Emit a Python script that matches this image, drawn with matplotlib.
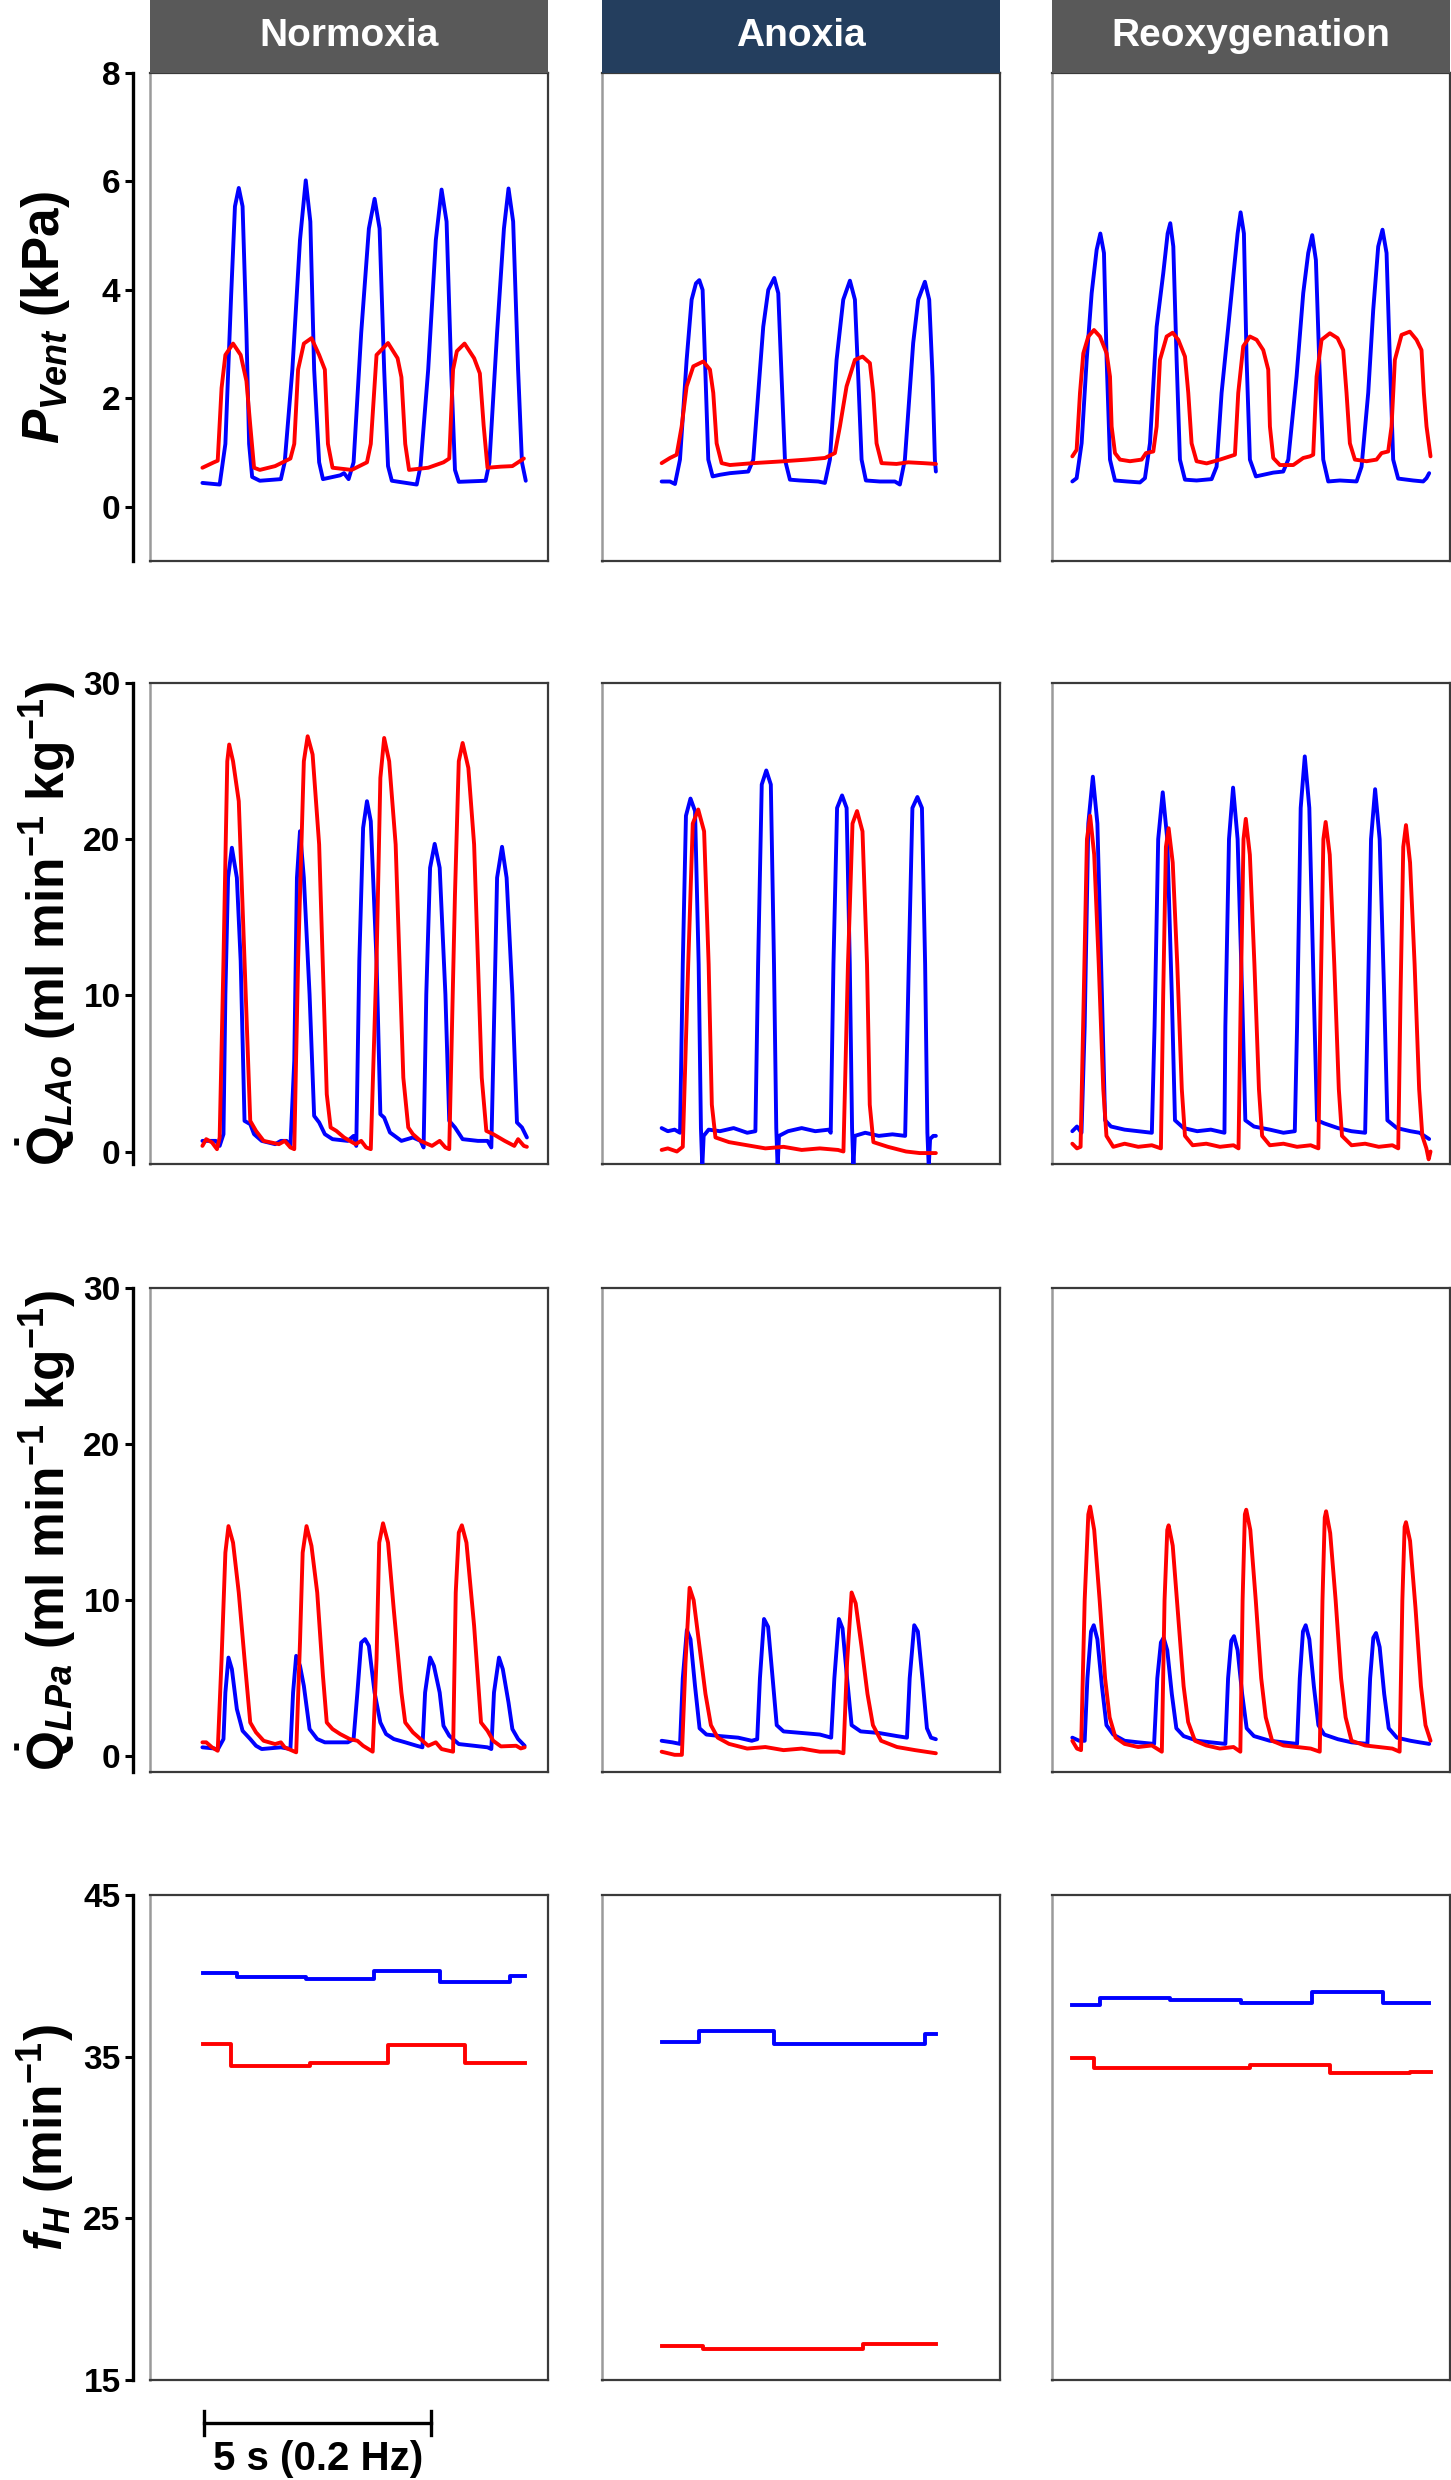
import matplotlib
matplotlib.use('Agg')
import matplotlib.pyplot as plt
import matplotlib.transforms as mtrans
from matplotlib.patches import Rectangle
import numpy as np

plt.rcParams['font.family'] = ['Liberation Sans', 'DejaVu Sans']
plt.rcParams['font.weight'] = 'bold'
plt.rcParams['mathtext.fontset'] = 'custom'
plt.rcParams['mathtext.rm'] = 'Liberation Sans:bold'
plt.rcParams['mathtext.it'] = 'Liberation Sans:italic:bold'
plt.rcParams['mathtext.bf'] = 'Liberation Sans:bold'

# ---------------- data ----------------
conditions = ['Normoxia', 'Anoxia', 'Reoxygenation']
ylabels = [r'$\mathit{P}_{\mathit{Vent}}$ (kPa)',
           r'$\dot{\mathrm{Q}}_{\mathit{LAo}}$ (ml min$^{\mathrm{-1}}$ kg$^{\mathrm{-1}}$)',
           r'$\dot{\mathrm{Q}}_{\mathit{LPa}}$ (ml min$^{\mathrm{-1}}$ kg$^{\mathrm{-1}}$)',
           r'$\mathit{f}_{\mathit{H}}$ (min$^{\mathrm{-1}}$)']
yticks_rows = [[0, 2, 4, 6, 8], [0, 10, 20, 30], [0, 10, 20, 30], [15, 25, 35, 45]]
ylims_rows = [(-1, 8), (-0.8, 30), (-1, 30), (15, 45)]
scale_bar_start = 1.2   # s
scale_bar_len = 5.0     # s
scale_bar_label = '5 s (0.2 Hz)'

# (time in s from panel left edge, value)
norm_pv_blue = [(1.155,0.44),(1.535,0.41),(1.661,1.16),(1.788,3.90),(1.872,5.54),(1.956,5.88),(2.040,5.54),(2.125,3.21),(2.184,1.16),(2.251,0.55),(2.420,0.48),(2.884,0.51),(2.968,0.82),(3.137,2.53),(3.305,4.92),(3.432,6.02),(3.533,5.26),(3.617,2.53),(3.727,0.82),(3.811,0.51),(4.191,0.58),(4.275,0.62),(4.376,0.51),(4.486,0.82),(4.654,3.21),(4.823,5.13),(4.949,5.68),(5.059,5.13),(5.160,2.53),(5.245,0.75),(5.329,0.48),(5.877,0.41),(5.961,0.75),(6.130,2.53),(6.298,4.92),(6.425,5.85),(6.535,5.26),(6.636,2.53),(6.720,0.68),(6.804,0.46),(7.395,0.48),(7.479,0.82),(7.648,3.21),(7.799,5.13),(7.900,5.87),(8.002,5.26),(8.111,2.53),(8.196,0.82),(8.280,0.48)]
norm_pv_red = [(1.155,0.72),(1.408,0.82),(1.492,0.85),(1.577,2.19),(1.661,2.80),(1.830,3.01),(1.998,2.80),(2.125,2.32),(2.209,1.50),(2.293,0.72),(2.420,0.68),(2.757,0.75),(3.094,0.89),(3.179,1.16),(3.263,2.53),(3.390,3.01),(3.558,3.11),(3.727,2.80),(3.853,2.53),(3.921,1.16),(4.022,0.72),(4.444,0.68),(4.781,0.82),(4.865,1.16),(4.992,2.80),(5.245,3.02),(5.455,2.74),(5.540,2.39),(5.624,1.16),(5.708,0.68),(6.130,0.72),(6.467,0.82),(6.594,0.89),(6.678,2.53),(6.762,2.87),(6.931,3.01),(7.142,2.74),(7.268,2.46),(7.352,1.50),(7.437,0.72),(7.732,0.74),(7.985,0.75),(8.238,0.89)]

norm_qlao_blue = [(1.155,0.68),(1.450,0.68),(1.535,0.36),(1.619,1.11),(1.661,10.06),(1.720,17.53),(1.804,19.45),(1.914,17.53),(1.998,12.20),(2.083,1.96),(2.209,1.75),(2.293,1.11),(2.462,0.68),(2.757,0.47),(2.884,0.68),(3.010,0.68),(3.094,0.36),(3.179,5.80),(3.238,17.53),(3.305,20.51),(3.390,17.53),(3.516,10.06),(3.617,2.28),(3.727,1.86),(3.853,1.11),(4.022,0.79),(4.359,0.68),(4.486,1.00),(4.545,0.36),(4.612,12.20),(4.696,20.72),(4.781,22.43),(4.865,21.15),(4.992,12.20),(5.076,2.39),(5.160,2.17),(5.287,1.22),(5.540,0.68),(5.793,0.90),(5.961,0.68),(6.029,0.26),(6.088,10.06),(6.172,18.17),(6.273,19.70),(6.383,18.17),(6.509,10.06),(6.594,1.96),(6.720,1.54),(6.889,0.79),(7.226,0.68),(7.437,0.68),(7.521,0.26),(7.563,5.80),(7.648,17.53),(7.757,19.51),(7.858,17.53),(7.985,10.06),(8.086,1.86),(8.196,1.54),(8.305,0.90)]
norm_qlao_red = [(1.155,0.36),(1.239,0.79),(1.366,0.58),(1.476,0.15),(1.535,0.90),(1.619,12.20),(1.703,24.99),(1.745,26.06),(1.830,24.99),(1.956,22.43),(2.083,12.20),(2.209,1.96),(2.336,1.32),(2.504,0.68),(2.841,0.47),(2.968,0.68),(3.094,0.26),(3.179,0.15),(3.263,12.20),(3.390,24.99),(3.474,26.59),(3.583,25.42),(3.727,19.66),(3.895,3.67),(3.980,1.54),(4.106,1.32),(4.275,0.90),(4.528,0.47),(4.654,0.68),(4.764,0.26),(4.865,0.15),(4.992,12.20),(5.076,23.92),(5.160,26.48),(5.270,24.99),(5.413,19.66),(5.582,4.73),(5.691,1.54),(5.793,1.11),(5.961,0.68),(6.214,0.36),(6.383,0.68),(6.509,0.26),(6.594,0.15),(6.720,16.46),(6.804,24.99),(6.889,26.16),(7.015,24.56),(7.142,19.66),(7.310,4.73),(7.411,1.32),(7.563,1.11),(7.816,0.68),(8.027,0.36),(8.111,0.79),(8.238,0.36),(8.305,0.30)]

norm_qlpa_blue = [(1.155,0.58),(1.408,0.51),(1.492,0.43),(1.619,1.11),(1.661,4.09),(1.729,6.33),(1.804,5.59),(1.914,3.03),(2.040,1.64),(2.209,1.11),(2.336,0.68),(2.462,0.47),(2.884,0.58),(3.094,0.47),(3.153,4.09),(3.221,6.44),(3.305,5.80),(3.390,4.52),(3.516,1.75),(3.685,1.11),(3.853,0.90),(4.359,0.90),(4.486,1.11),(4.570,4.09),(4.654,7.29),(4.739,7.51),(4.823,7.08),(4.949,4.09),(5.076,2.17),(5.202,1.43),(5.371,1.11),(5.624,0.90),(5.877,0.68),(6.003,0.58),(6.062,4.09),(6.172,6.33),(6.256,5.80),(6.383,4.09),(6.467,1.96),(6.594,1.32),(6.804,0.79),(7.142,0.68),(7.437,0.58),(7.521,0.47),(7.580,4.09),(7.690,6.33),(7.774,5.59),(7.900,3.45),(7.985,1.75),(8.111,1.11),(8.255,0.68)]
norm_qlpa_red = [(1.155,0.90),(1.239,0.90),(1.366,0.58),(1.492,0.36),(1.577,6.23),(1.661,13.05),(1.729,14.75),(1.830,13.69),(1.956,10.49),(2.083,6.23),(2.209,2.17),(2.336,1.54),(2.504,1.00),(2.757,0.79),(2.884,0.90),(2.968,0.58),(3.221,0.26),(3.305,7.29),(3.364,13.05),(3.449,14.75),(3.558,13.48),(3.685,10.49),(3.811,5.16),(3.895,2.17),(4.022,1.75),(4.191,1.43),(4.402,1.11),(4.570,1.00),(4.696,0.68),(4.907,0.30),(4.992,6.23),(5.051,13.69),(5.135,14.93),(5.245,13.69),(5.371,9.42),(5.540,4.09),(5.624,2.17),(5.793,1.54),(5.961,1.11),(6.130,0.68),(6.298,0.90),(6.425,0.47),(6.678,0.30),(6.737,10.49),(6.804,14.33),(6.872,14.80),(6.973,13.69),(7.142,8.36),(7.294,2.17),(7.437,1.64),(7.563,1.00),(7.732,0.64),(8.069,0.68),(8.170,0.51),(8.255,0.58)]

norm_fh_blue_t = [1.17, 1.91, 3.44, 4.93, 6.40, 7.93, 8.26]
norm_fh_blue_v = [40.2, 39.9, 39.8, 40.3, 39.6, 40.0, 40.0]
norm_fh_red_t = [1.17, 1.78, 3.52, 5.24, 6.94, 8.26]
norm_fh_red_v = [35.76, 34.44, 34.6, 35.72, 34.6, 34.6]

anox_pv_blue = [(1.314,0.466),(1.498,0.466),(1.608,0.42),(1.718,0.87),(1.865,2.71),(1.975,3.82),(2.070,4.12),(2.144,4.18),(2.217,4.0),(2.269,2.71),(2.342,0.87),(2.438,0.56),(2.599,0.59),(2.819,0.62),(3.223,0.65),(3.333,0.87),(3.443,2.10),(3.553,3.32),(3.664,4.0),(3.796,4.22),(3.884,3.94),(3.957,2.40),(4.031,0.87),(4.141,0.50),(4.361,0.485),(4.765,0.466),(4.912,0.44),(5.022,0.87),(5.169,2.71),(5.316,3.82),(5.463,4.17),(5.573,3.82),(5.646,2.40),(5.720,0.87),(5.815,0.485),(6.123,0.466),(6.454,0.466),(6.564,0.41),(6.674,0.87),(6.857,3.02),(6.968,3.82),(7.115,4.15),(7.210,3.82),(7.284,2.40),(7.335,0.87),(7.357,0.65)]
anox_pv_red = [(1.314,0.805),(1.498,0.90),(1.645,0.96),(1.755,1.48),(1.865,2.22),(2.012,2.59),(2.232,2.68),(2.379,2.53),(2.452,2.10),(2.526,1.17),(2.636,0.805),(2.819,0.77),(3.333,0.805),(3.921,0.835),(4.508,0.87),(4.912,0.90),(5.132,0.99),(5.242,1.48),(5.389,2.22),(5.573,2.71),(5.742,2.77),(5.903,2.65),(5.977,2.10),(6.050,1.17),(6.160,0.805),(6.490,0.79),(6.747,0.82),(7.078,0.805),(7.357,0.79)]

anox_qlao_blue = [(1.314,1.5),(1.45,1.3),(1.60,1.4),(1.72,1.2),(1.78,12.0),(1.85,21.5),(1.95,22.6),(2.05,21.8),(2.13,12.0),(2.18,1.5),(2.21,-1.0),(2.24,1.0),(2.35,1.4),(2.60,1.3),(2.90,1.5),(3.20,1.2),(3.38,1.3),(3.44,12.0),(3.52,23.5),(3.62,24.4),(3.72,23.5),(3.79,12.0),(3.84,1.5),(3.87,-1.0),(3.90,1.0),(4.10,1.3),(4.40,1.5),(4.70,1.3),(5.00,1.4),(5.04,1.2),(5.10,12.0),(5.18,22.0),(5.29,22.8),(5.39,22.0),(5.46,12.0),(5.51,1.5),(5.54,-1.0),(5.57,1.0),(5.80,1.2),(6.10,1.0),(6.40,1.1),(6.68,1.0),(6.76,12.0),(6.84,22.0),(6.95,22.7),(7.05,22.0),(7.12,12.0),(7.17,1.2),(7.20,-1.0),(7.23,0.8),(7.30,1.0),(7.357,1.0)]
anox_qlao_red = [(1.314,0.1),(1.45,0.2),(1.65,0.0),(1.78,0.3),(1.90,12.0),(2.00,21.0),(2.12,21.9),(2.25,20.5),(2.35,12.0),(2.42,3.0),(2.50,0.9),(2.80,0.6),(3.20,0.4),(3.60,0.2),(4.00,0.3),(4.40,0.1),(4.80,0.2),(5.20,0.1),(5.32,0.0),(5.42,12.0),(5.52,21.0),(5.62,21.8),(5.74,20.5),(5.84,12.0),(5.90,3.0),(5.98,0.6),(6.30,0.3),(6.70,0.0),(7.00,-0.1),(7.357,-0.1)]

anox_qlpa_blue = [(1.314,1.0),(1.55,0.9),(1.72,0.8),(1.78,5.0),(1.87,8.1),(1.95,7.5),(2.05,4.5),(2.15,1.8),(2.30,1.4),(2.60,1.3),(3.00,1.2),(3.30,1.0),(3.42,1.1),(3.48,5.0),(3.57,8.8),(3.66,8.3),(3.76,5.0),(3.85,2.0),(4.00,1.6),(4.40,1.5),(4.80,1.4),(5.05,1.2),(5.12,5.0),(5.22,8.8),(5.30,8.2),(5.40,5.0),(5.50,2.0),(5.70,1.6),(6.10,1.5),(6.50,1.3),(6.72,1.2),(6.78,5.0),(6.88,8.4),(6.96,8.0),(7.06,5.0),(7.16,1.8),(7.25,1.2),(7.357,1.1)]
anox_qlpa_red = [(1.314,0.3),(1.60,0.1),(1.76,0.1),(1.84,6.0),(1.93,10.8),(2.02,10.0),(2.15,7.0),(2.28,4.0),(2.40,2.0),(2.55,1.2),(2.80,0.8),(3.20,0.5),(3.60,0.6),(4.00,0.4),(4.40,0.5),(4.80,0.3),(5.20,0.3),(5.32,0.2),(5.40,6.0),(5.50,10.5),(5.59,9.8),(5.72,7.0),(5.85,4.0),(5.97,2.0),(6.15,1.0),(6.50,0.6),(6.90,0.4),(7.357,0.2)]

anox_fh_blue_t = [1.314, 2.144, 3.796, 5.463, 7.115, 7.357]
anox_fh_blue_v = [35.9, 36.6, 35.8, 35.8, 36.4, 36.4]
anox_fh_red_t = [1.314, 2.232, 5.742, 7.357]
anox_fh_red_v = [17.1, 16.9, 17.2, 17.2]

reox_pv_blue = [(0.448,0.467),(0.543,0.528),(0.653,1.174),(0.764,2.71),(0.874,3.94),(0.984,4.74),(1.065,5.04),(1.145,4.68),(1.204,2.71),(1.278,0.87),(1.388,0.485),(1.645,0.467),(1.938,0.449),(2.048,0.528),(2.159,1.174),(2.306,3.32),(2.452,4.31),(2.548,5.04),(2.606,5.23),(2.673,4.80),(2.746,2.71),(2.819,0.87),(2.930,0.50),(3.186,0.485),(3.517,0.51),(3.627,0.74),(3.737,2.10),(3.884,3.32),(3.994,4.25),(4.090,5.04),(4.156,5.43),(4.229,5.04),(4.288,2.71),(4.361,0.87),(4.493,0.56),(4.875,0.63),(5.095,0.65),(5.206,0.87),(5.389,2.40),(5.536,3.94),(5.646,4.68),(5.734,5.01),(5.815,4.55),(5.888,2.71),(5.977,0.87),(6.087,0.467),(6.344,0.485),(6.711,0.467),(6.821,0.74),(6.968,2.10),(7.078,3.63),(7.188,4.80),(7.283,5.11),(7.372,4.68),(7.445,2.71),(7.518,0.87),(7.628,0.52),(7.959,0.485),(8.179,0.467),(8.252,0.528),(8.311,0.62)]
reox_pv_red = [(0.448,0.93),(0.543,1.05),(0.617,2.10),(0.690,2.83),(0.800,3.14),(0.925,3.26),(1.057,3.14),(1.204,2.83),(1.278,2.40),(1.314,1.48),(1.388,0.99),(1.498,0.87),(1.718,0.84),(1.975,0.87),(2.070,0.99),(2.232,1.02),(2.306,1.48),(2.379,2.71),(2.526,3.14),(2.658,3.21),(2.783,3.08),(2.930,2.77),(3.003,2.10),(3.076,1.17),(3.186,0.84),(3.407,0.80),(3.700,0.87),(3.921,0.93),(4.031,0.96),(4.104,2.10),(4.214,2.96),(4.361,3.14),(4.508,3.08),(4.655,2.89),(4.765,2.53),(4.802,1.48),(4.875,0.90),(5.022,0.77),(5.316,0.77),(5.536,0.90),(5.683,0.93),(5.756,0.96),(5.830,2.40),(5.940,3.08),(6.123,3.20),(6.292,3.11),(6.417,2.89),(6.490,2.10),(6.564,1.17),(6.674,0.87),(6.931,0.84),(7.151,0.87),(7.261,0.99),(7.408,1.02),(7.482,1.48),(7.555,2.71),(7.702,3.17),(7.885,3.23),(8.032,3.08),(8.142,2.89),(8.194,2.10),(8.253,1.48),(8.341,0.93)]

reox_qlao_blue = [(0.448,1.3),(0.55,1.6),(0.65,1.2),(0.72,8.0),(0.80,21.0),(0.90,24.0),(1.00,21.0),(1.10,10.0),(1.17,2.0),(1.30,1.6),(1.60,1.4),(1.90,1.3),(2.20,1.2),(2.26,8.0),(2.34,20.0),(2.44,23.0),(2.54,20.0),(2.64,10.0),(2.71,2.0),(2.90,1.5),(3.20,1.3),(3.50,1.4),(3.80,1.2),(3.82,8.0),(3.90,20.0),(3.99,23.3),(4.09,20.0),(4.19,10.0),(4.26,2.0),(4.45,1.6),(4.80,1.4),(5.10,1.2),(5.35,1.3),(5.40,8.0),(5.48,22.0),(5.57,25.3),(5.67,22.0),(5.77,10.0),(5.84,2.0),(6.00,1.8),(6.30,1.5),(6.60,1.3),(6.90,1.2),(6.95,8.0),(7.03,20.0),(7.12,23.2),(7.22,20.0),(7.32,10.0),(7.39,2.0),(7.60,1.5),(7.90,1.3),(8.10,1.2),(8.31,0.8)]
reox_qlao_red = [(0.448,0.5),(0.55,0.2),(0.63,0.3),(0.70,10.0),(0.77,20.0),(0.84,21.5),(0.93,19.0),(1.03,12.0),(1.13,4.0),(1.20,1.0),(1.35,0.3),(1.60,0.5),(1.90,0.3),(2.20,0.4),(2.40,0.2),(2.45,10.0),(2.51,19.5),(2.57,20.7),(2.66,18.5),(2.76,12.0),(2.86,4.0),(2.93,1.0),(3.10,0.4),(3.40,0.5),(3.70,0.3),(4.00,0.4),(4.11,0.2),(4.16,10.0),(4.22,20.0),(4.27,21.3),(4.36,19.0),(4.46,12.0),(4.56,4.0),(4.63,1.0),(4.80,0.4),(5.10,0.5),(5.40,0.3),(5.70,0.4),(5.87,0.2),(5.92,10.0),(5.98,20.0),(6.03,21.1),(6.12,19.0),(6.22,12.0),(6.32,4.0),(6.39,1.0),(6.60,0.4),(6.90,0.5),(7.20,0.3),(7.50,0.4),(7.63,0.2),(7.68,10.0),(7.74,19.5),(7.80,20.9),(7.89,18.5),(7.99,12.0),(8.09,4.0),(8.16,1.0),(8.25,0.2),(8.30,-0.5),(8.341,0.0)]

reox_qlpa_blue = [(0.448,1.2),(0.60,1.0),(0.72,1.0),(0.78,5.0),(0.86,8.0),(0.92,8.4),(1.00,7.5),(1.10,4.5),(1.20,2.0),(1.35,1.4),(1.60,1.0),(1.90,0.9),(2.25,0.8),(2.32,5.0),(2.40,7.3),(2.46,7.6),(2.54,6.8),(2.64,4.0),(2.74,1.8),(2.90,1.3),(3.20,1.0),(3.50,0.9),(3.82,0.8),(3.88,5.0),(3.95,7.4),(4.01,7.7),(4.09,6.8),(4.19,4.0),(4.29,1.8),(4.45,1.3),(4.80,1.0),(5.10,0.9),(5.40,0.8),(5.46,5.0),(5.53,8.0),(5.59,8.4),(5.67,7.5),(5.77,4.5),(5.87,2.0),(6.00,1.4),(6.30,1.1),(6.60,0.9),(6.95,0.8),(7.01,5.0),(7.08,7.6),(7.14,7.9),(7.22,7.0),(7.32,4.0),(7.42,1.8),(7.60,1.2),(7.90,1.0),(8.10,0.9),(8.311,0.8)]
reox_qlpa_red = [(0.448,1.0),(0.55,0.5),(0.64,0.4),(0.72,10.0),(0.80,15.5),(0.84,16.0),(0.93,14.5),(1.05,10.0),(1.17,5.0),(1.27,2.5),(1.40,1.2),(1.60,0.8),(1.90,0.6),(2.20,0.7),(2.42,0.3),(2.48,10.0),(2.54,14.5),(2.57,14.8),(2.66,13.5),(2.78,9.0),(2.90,4.5),(3.00,2.2),(3.15,1.0),(3.40,0.7),(3.70,0.5),(4.00,0.6),(4.15,0.3),(4.20,10.0),(4.25,15.5),(4.28,15.8),(4.37,14.5),(4.49,10.0),(4.61,5.0),(4.71,2.5),(4.85,1.0),(5.10,0.7),(5.40,0.6),(5.70,0.5),(5.90,0.3),(5.96,10.0),(6.01,15.3),(6.04,15.7),(6.13,14.3),(6.25,10.0),(6.37,5.0),(6.47,2.5),(6.60,1.0),(6.90,0.7),(7.20,0.6),(7.50,0.5),(7.66,0.3),(7.72,10.0),(7.77,14.7),(7.80,15.0),(7.89,13.8),(8.01,9.5),(8.13,4.5),(8.23,2.0),(8.341,1.0)]

reox_fh_blue_t = [0.448, 1.065, 2.606, 4.156, 5.734, 7.283, 8.311]
reox_fh_blue_v = [38.2, 38.6, 38.5, 38.3, 39.0, 38.3, 38.3]
reox_fh_red_t = [0.448, 0.925, 2.658, 4.361, 6.123, 7.885, 8.341]
reox_fh_red_v = [34.9, 34.3, 34.3, 34.5, 34.0, 34.05, 34.05]

traces = {
    (0, 0): (norm_pv_blue, norm_pv_red),
    (1, 0): (norm_qlao_blue, norm_qlao_red),
    (2, 0): (norm_qlpa_blue, norm_qlpa_red),
    (0, 1): (anox_pv_blue, anox_pv_red),
    (1, 1): (anox_qlao_blue, anox_qlao_red),
    (2, 1): (anox_qlpa_blue, anox_qlpa_red),
    (0, 2): (reox_pv_blue, reox_pv_red),
    (1, 2): (reox_qlao_blue, reox_qlao_red),
    (2, 2): (reox_qlpa_blue, reox_qlpa_red),
}
fh_steps = {
    0: ((norm_fh_blue_t, norm_fh_blue_v), (norm_fh_red_t, norm_fh_red_v)),
    1: ((anox_fh_blue_t, anox_fh_blue_v), (anox_fh_red_t, anox_fh_red_v)),
    2: ((reox_fh_blue_t, reox_fh_blue_v), (reox_fh_red_t, reox_fh_red_v)),
}

# ---------------- layout ----------------
W, H = 1451, 2480
col_left = [150, 602, 1052]
col_w = 398
row_top = [73, 683, 1288, 1895]
row_bot = [561, 1164, 1772, 2380]
x_span = (0, 8.77)
header_h = 73
header_colors = ['#595959', '#243e5e', '#595959']
blue = '#0000ff'
red = '#ff0000'
lw_trace = 2.8

fig = plt.figure(figsize=(W / 100, H / 100), dpi=100)
fig.patch.set_facecolor('white')

for r in range(4):
    for c in range(3):
        l = col_left[c] / W
        b = 1 - row_bot[r] / H
        ax = fig.add_axes([l, b, col_w / W, (row_bot[r] - row_top[r]) / H])
        ax.set_xlim(*x_span)
        ax.set_ylim(*ylims_rows[r])
        ax.set_xticks([])
        ax.set_yticks([])
        for side in ['top', 'right', 'bottom']:
            ax.spines[side].set_color('#3a3a3a')
            ax.spines[side].set_linewidth(1.6)
        ax.spines['left'].set_color('#9a9a9a')
        ax.spines['left'].set_linewidth(1.8)

        if r < 3 and (r, c) in traces:
            tb, tr = traces[(r, c)]
            tb = np.array(tb); tr = np.array(tr)
            ax.plot(tb[:, 0], tb[:, 1], color=blue, lw=lw_trace, solid_joinstyle='round',
                    solid_capstyle='round', zorder=3)
            ax.plot(tr[:, 0], tr[:, 1], color=red, lw=lw_trace, solid_joinstyle='round',
                    solid_capstyle='round', zorder=4)
        if r == 3 and c in fh_steps:
            (bt, bv), (rt, rv) = fh_steps[c]
            ax.plot(bt, bv, color=blue, lw=lw_trace, drawstyle='steps-post')
            ax.plot(rt, rv, color=red, lw=lw_trace, drawstyle='steps-post')

        if c == 0:
            sec = ax.secondary_yaxis(-17 / col_w)
            sec.set_yticks(yticks_rows[r])
            sec.spines['left'].set_linewidth(2.4)
            sec.spines['left'].set_color('black')
            sec.tick_params(axis='y', length=6, width=2.2, labelsize=24, pad=3, colors='black')
            for lab in sec.get_yticklabels():
                lab.set_fontweight('bold')
            fig.text(46 / W, 1 - (row_top[r] + row_bot[r]) / 2 / H, ylabels[r],
                     rotation=90, ha='center', va='center', fontsize=37, fontweight='bold')

        if r == 0:
            hh = header_h / (row_bot[r] - row_top[r])
            ax.add_patch(Rectangle((0, 1), 1, hh, transform=ax.transAxes, clip_on=False,
                                   facecolor=header_colors[c], edgecolor='none', zorder=5))
            ax.text(0.5, 1 + hh / 2, conditions[c], transform=ax.transAxes, ha='center', va='center',
                    color='white', fontsize=28, fontweight='bold', zorder=6)

        if r == 3 and c == 0:
            h_ax = row_bot[r] - row_top[r]
            trans = mtrans.blended_transform_factory(ax.transData, ax.transAxes)
            yb = -(2423 - row_bot[r]) / h_ax
            cap = 12 / h_ax
            x0 = scale_bar_start
            x1 = scale_bar_start + scale_bar_len
            ax.plot([x0, x1], [yb, yb], transform=trans, color='black', lw=2.4, clip_on=False)
            ax.plot([x0, x0], [yb - cap, yb + cap], transform=trans, color='black', lw=2.4, clip_on=False)
            ax.plot([x1, x1], [yb - cap, yb + cap], transform=trans, color='black', lw=2.4, clip_on=False)
            ax.text((x0 + x1) / 2, -(2459 - row_bot[r]) / h_ax, scale_bar_label, transform=trans,
                    ha='center', va='center', fontsize=29, fontweight='bold')

fig.savefig('out.png', dpi=100, facecolor='white')
